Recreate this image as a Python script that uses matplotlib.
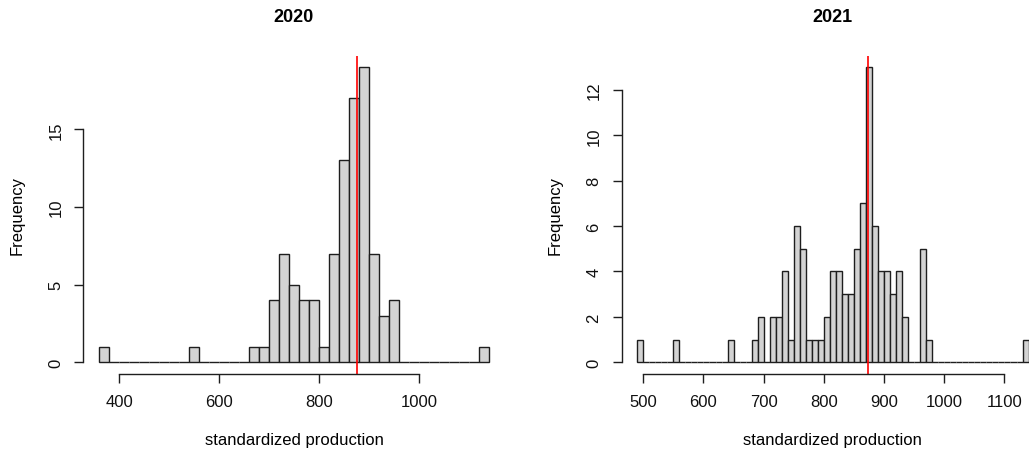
import matplotlib
matplotlib.use('Agg')
import matplotlib.pyplot as plt
import numpy as np

plt.rcParams['font.family'] = ['Liberation Sans', 'DejaVu Sans']

# 2020: bins of width 20
edges_2020 = np.arange(360, 1141, 20)
counts_2020 = [1, 0, 0, 0, 0, 0, 0, 0, 0, 1,
               0, 0, 0, 0, 0, 1, 1, 4, 7, 5,
               4, 4, 1, 7, 13, 17, 19, 7, 3, 4,
               0, 0, 0, 0, 0, 0, 0, 0, 1]
median_2020 = 876

# 2021: bins of width 10
edges_2021 = np.arange(490, 1141, 10)
counts_2021 = [1, 0, 0, 0, 0, 0, 1, 0, 0, 0,
               0, 0, 0, 0, 0, 1, 0, 0, 0, 1,
               2, 0, 2, 2, 4, 1, 6, 5, 1, 1,
               1, 2, 4, 4, 3, 3, 5, 7, 13, 6,
               4, 4, 3, 4, 2, 0, 0, 5, 1, 0,
               0, 0, 0, 0, 0, 0, 0, 0, 0, 0,
               0, 0, 0, 0, 1]
median_2021 = 874

panels = [
    ('2020', edges_2020, counts_2020, median_2020,
     [400, 600, 800, 1000], [0, 5, 10, 15]),
    ('2021', edges_2021, counts_2021, median_2021,
     [500, 600, 700, 800, 900, 1000, 1100], [0, 2, 4, 6, 8, 10, 12]),
]

W, H = 1029, 452
fig = plt.figure(figsize=(W / 100, H / 100), dpi=100)

# plot regions in pixels (left, right), shared top/bottom
regions = [(83.4, 504.6), (621.6, 1044.2)]
top_px, bot_px = 56.5, 375.0

ink = '#1e1e1e'
for (title, edges, counts, med, xt, yt), (x0, x1) in zip(panels, regions):
    ax = fig.add_axes([x0 / W, (H - bot_px) / H, (x1 - x0) / W, (bot_px - top_px) / H])
    counts = np.asarray(counts)
    ax.bar(edges[:-1], counts, width=np.diff(edges), align='edge',
           color='#d3d3d3', edgecolor=ink, linewidth=1.0)
    ax.axvline(med, color='red', linewidth=1.2)

    # R-style 4% padding around the data range
    xr = edges[-1] - edges[0]
    ax.set_xlim(edges[0] - 0.04 * xr, edges[-1] + 0.04 * xr)
    ymax = counts.max()
    ax.set_ylim(-0.04 * ymax, ymax * 1.04)

    ax.set_xticks(xt)
    ax.set_yticks(yt)
    ax.spines['top'].set_visible(False)
    ax.spines['right'].set_visible(False)
    ax.spines['bottom'].set_bounds(xt[0], xt[-1])
    ax.spines['left'].set_bounds(yt[0], yt[-1])
    for s in ('bottom', 'left'):
        ax.spines[s].set_color(ink)
        ax.spines[s].set_linewidth(1.0)
    ax.tick_params(axis='both', length=6.5, width=1.0, color=ink,
                   labelsize=12, labelcolor='#111111')
    ax.tick_params(axis='x', pad=8)
    ax.tick_params(axis='y', pad=8, labelrotation=90)
    for lbl in ax.get_yticklabels():
        lbl.set_va('center')

    h = bot_px - top_px
    ax.set_xlabel('standardized production', fontsize=12, va='center')
    ax.set_ylabel('Frequency', fontsize=12, va='center')
    ax.xaxis.set_label_coords(0.5, (bot_px - 441) / h)
    ax.yaxis.set_label_coords(-66.5 / (x1 - x0), 0.5)
    ax.set_title(title, fontsize=13, fontweight='bold',
                 y=(bot_px - 18) / h, va='center', pad=0)

fig.savefig('out.png', dpi=100)
